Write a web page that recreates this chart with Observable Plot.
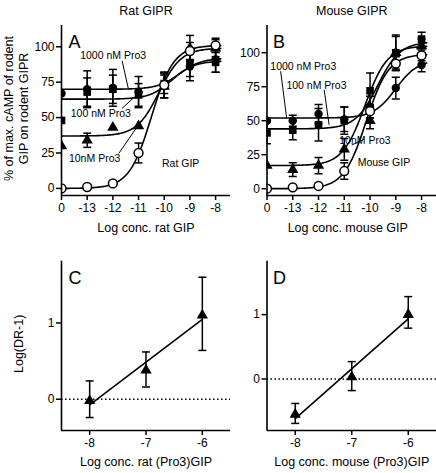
<!DOCTYPE html>
<html><head><meta charset="utf-8">
<script src="https://cdn.jsdelivr.net/npm/d3@7"></script>
<script src="https://cdn.jsdelivr.net/npm/@observablehq/plot@0.6"></script>
<style>
body{margin:0;background:#fff;}
#wrap{position:relative;width:436px;height:473px;background:#fff;font-family:"Liberation Sans",Arial,sans-serif;}
#wrap svg{position:absolute;}
</style></head><body><div id="wrap"></div>
<script>
// ---------- DATA ----------
// agonist dose (log M); the "0" tick is the no-agonist control, drawn at the left end (-14)
const doseLog = [-14, -13, -12, -11, -10, -9, -8];
const doseLabels = ["0", "-13", "-12", "-11", "-10", "-9", "-8"];
const seriesKeys = ["pro1000", "pro100", "pro10", "gip"];

// Panel A: rat GIPR (% of max cAMP)
const ratGIP      = [0, 1, 3.5, 25, 73, 97, 101];
const ratGIPErr   = [0, 0, 0, 7, 9, 6, 5];
const rat10       = [30, 34, 43, 44, 72, 99, 99];
const rat10Err    = [0, 5, 0, 0, 8, 9, 6];
const rat100      = [48, 68, 70, 66, 74, 88, 89];
const rat100Err   = [0, 10, 10, 8, 7, 9, 7];
const rat1000     = [67, 70, 71, 68, 73, 86, 91];
const rat1000Err  = [0, 13, 13, 11, 9, 10, 9];
// fitted sigmoid parameters, order as seriesKeys
const ratFitBottom = [70, 63, 37, 0];
const ratFitTop    = [92, 90, 99, 101];
const ratFitLogEC50 = [-9.4, -9.7, -10.2, -10.5];

// Panel B: mouse GIPR
const mouseGIP     = [0, 1, 2, 13, 57, 92, 98];
const mouseGIPErr  = [0, 0, 0, 6, 5, 5, 4];
const mouse10      = [17, 14, 17, 29, 50, 100, 105];
const mouse10Err   = [0, 5, 6, 8, 6, 12, 5];
const mouse100     = [41, 43, 47, 50, 72, 100, 110];
const mouse100Err  = [8, 7, 12, 10, 13, 13, 5];
const mouse1000    = [50, 50, 55, 51, 60, 74, 91];
const mouse1000Err = [0, 4, 7, 9, 8, 8, 5];
const mouseFitBottom = [52, 44, 17, 0];
const mouseFitTop    = [95, 108, 105, 99];
const mouseFitLogEC50 = [-9.0, -9.7, -10.2, -10.15];

// Panels C/D: Schild plots
const pro3Log   = [-8, -7, -6];
const ratDR     = [-0.02, 0.38, 1.1];
const ratDRLo   = [-0.24, 0.16, 0.64];
const ratDRHi   = [0.24, 0.62, 1.6];
const mouseDR   = [-0.55, 0.03, 1.0];
const mouseDRLo = [-0.69, -0.18, 0.79];
const mouseDRHi = [-0.38, 0.27, 1.28];

// ---------- BUILD ----------
const FONT = '"Liberation Sans", Arial, Helvetica, sans-serif';
const wrap = document.getElementById("wrap");
const capSymbol = {draw(ctx, size) { const w = Math.sqrt(size / Math.PI); ctx.moveTo(-w, 0); ctx.lineTo(w, 0); }};
const plain = d => String(d);

function rows(key, vals, errs) {
  return doseLog.map((x, i) => ({series: key, x, y: vals[i], err: errs[i], lo: vals[i] - errs[i], hi: vals[i] + errs[i]}));
}
function fitCurves(bottoms, tops, ec50s) {
  const pts = [];
  seriesKeys.forEach((s, k) => {
    for (let j = 0; j <= 124; j++) {
      const x = -14 + j * 0.05;
      pts.push({series: s, x, y: bottoms[k] + (tops[k] - bottoms[k]) / (1 + Math.pow(10, ec50s[k] - x))});
    }
  });
  return pts;
}
function place(svg, left, top) {
  svg.style.left = left + "px"; svg.style.top = top + "px";
  svg.style.background = "transparent"; svg.style.overflow = "visible";
  wrap.appendChild(svg);
}

function topPanel(o) {
  const all = [].concat(...o.data);
  const errRows = all.filter(d => d.err > 0);
  const [d1000, d100, d10, dgip] = o.data;
  const xDom = [-14, -7.42];
  const marks = [
    Plot.line(o.fit, {x: "x", y: "y", z: "series", stroke: "black", strokeWidth: 1.6, clip: true}),
    Plot.ruleX(errRows, {x: "x", y1: "lo", y2: "hi", stroke: "black", strokeWidth: 1.5, clip: true}),
    Plot.dot(errRows, {x: "x", y: "hi", symbol: capSymbol, r: 4, stroke: "black", fill: "none", strokeWidth: 1.5, clip: true}),
    Plot.dot(errRows, {x: "x", y: "lo", symbol: capSymbol, r: 4, stroke: "black", fill: "none", strokeWidth: 1.5, clip: true}),
    Plot.dot(d10, {x: "x", y: "y", symbol: "triangle", r: 4.2, fill: "black", clip: true}),
    Plot.dot(d100, {x: "x", y: "y", symbol: "square", r: 4.3, fill: "black", clip: true}),
    Plot.dot(d1000, {x: "x", y: "y", symbol: "circle", r: 4.2, fill: "black", clip: true}),
    Plot.dot(dgip, {x: "x", y: "y", symbol: "circle", r: 4.4, fill: "white", stroke: "black", strokeWidth: 1.5, clip: true}),
    Plot.link(o.leaders, {x1: "x1", y1: "y1", x2: "x2", y2: "y2", stroke: "black", strokeWidth: 1}),
    Plot.text(o.notes, {x: "x", y: "y", text: "text", textAnchor: d => d.anchor || "middle", lineAnchor: "middle", fontSize: 10.5}),
    Plot.ruleX([xDom[0]], {stroke: "black", strokeWidth: 1.6}),
    Plot.ruleY([o.yDomain[0]], {stroke: "black", strokeWidth: 1.6}),
    Plot.axisY({ticks: [0, 25, 50, 75, 100], tickFormat: plain, tickSize: 5, tickPadding: 2, fontSize: 12, strokeWidth: 1.5, label: null}),
    Plot.axisX({ticks: doseLog, tickFormat: d => doseLabels[doseLog.indexOf(d)], tickSize: 5, tickPadding: 3, fontSize: 12, strokeWidth: 1.5, label: null}),
    Plot.text([o.title], {frameAnchor: "top", dy: -19, fontSize: 12.5}),
    Plot.text([o.xLabel], {frameAnchor: "bottom", dy: 36.5, dx: o.xLabelDx || 0, fontSize: 12.5}),
    Plot.text([o.letter], {frameAnchor: "top-left", textAnchor: "start", lineAnchor: "middle", dx: o.letterDx, dy: 17, fontSize: 18})
  ];
  if (o.yLabel) {
    marks.push(Plot.text([o.yLabel[0]], {frameAnchor: "left", textAnchor: "middle", lineAnchor: "middle", rotate: -90, dx: -53, dy: -2, fontSize: 12.5}));
    marks.push(Plot.text([o.yLabel[1]], {frameAnchor: "left", textAnchor: "middle", lineAnchor: "middle", rotate: -90, dx: -38, dy: -2, fontSize: 12.5}));
  }
  return Plot.plot({
    width: o.width, height: 240,
    marginLeft: o.marginLeft, marginRight: o.marginRight, marginTop: 25, marginBottom: 45,
    x: {domain: xDom}, y: {domain: o.yDomain},
    style: {fontFamily: FONT, fontSize: "12px", color: "black"},
    marks
  });
}

function schildPanel(o) {
  const data = pro3Log.map((x, i) => ({x, y: o.vals[i], lo: o.lo[i], hi: o.hi[i]}));
  const xDom = [-8.5, -5.5];
  const marks = [
    Plot.ruleY([0], {stroke: "black", strokeWidth: 1.5, strokeDasharray: "1.5,2.5"}),
    Plot.linearRegressionY(data, {x: "x", y: "y", ci: 0, stroke: "black", strokeWidth: 1.6}),
    Plot.ruleX(data, {x: "x", y1: "lo", y2: "hi", stroke: "black", strokeWidth: 1.5}),
    Plot.dot(data, {x: "x", y: "hi", symbol: capSymbol, r: 4, stroke: "black", fill: "none", strokeWidth: 1.5}),
    Plot.dot(data, {x: "x", y: "lo", symbol: capSymbol, r: 4, stroke: "black", fill: "none", strokeWidth: 1.5}),
    Plot.dot(data, {x: "x", y: "y", symbol: "triangle", r: 4.2, fill: "black"}),
    Plot.ruleX([xDom[0]], {stroke: "black", strokeWidth: 1.6}),
    Plot.ruleY([o.yDomain[0]], {stroke: "black", strokeWidth: 1.6}),
    Plot.axisY({ticks: [0, 1], tickFormat: plain, tickSize: 5, tickPadding: 2, fontSize: 12, strokeWidth: 1.5, label: null}),
    Plot.axisX({ticks: pro3Log, tickFormat: plain, tickSize: 5, tickPadding: 3, fontSize: 12, strokeWidth: 1.5, label: null}),
    Plot.text([o.xLabel], {frameAnchor: "bottom", dy: 35, fontSize: 12.5}),
    Plot.text([o.letter], {frameAnchor: "top-left", textAnchor: "start", lineAnchor: "middle", dx: o.letterDx, dy: 17, fontSize: 18})
  ];
  if (o.yLabel) marks.push(Plot.text([o.yLabel], {frameAnchor: "left", textAnchor: "middle", lineAnchor: "middle", rotate: -90, dx: -43, dy: -2, fontSize: 12.5}));
  return Plot.plot({
    width: o.width, height: 233,
    marginLeft: o.marginLeft, marginRight: o.marginRight, marginTop: 20.7, marginBottom: 43,
    x: {domain: xDom}, y: {domain: o.yDomain},
    style: {fontFamily: FONT, fontSize: "12px", color: "black"},
    marks
  });
}

const ratData = [rows("pro1000", rat1000, rat1000Err), rows("pro100", rat100, rat100Err), rows("pro10", rat10, rat10Err), rows("gip", ratGIP, ratGIPErr)];
const mouseData = [rows("pro1000", mouse1000, mouse1000Err), rows("pro100", mouse100, mouse100Err), rows("pro10", mouse10, mouse10Err), rows("gip", mouseGIP, mouseGIPErr)];

place(topPanel({
  data: ratData, fit: fitCurves(ratFitBottom, ratFitTop, ratFitLogEC50),
  yDomain: [-5, 115], title: "Rat GIPR", xLabel: "Log conc. rat GIP", letter: "A", letterDx: 7,
  yLabel: ["% of max. cAMP of rodent", "GIP on rodent GIPR"],
  width: 236, marginLeft: 61, marginRight: 6,
  notes: [
    {text: "1000 nM Pro3", x: -11.99, y: 93.6},
    {text: "100 nM Pro3", x: -12.47, y: 53.0},
    {text: "10nM Pro3", x: -12.71, y: 21.2},
    {text: "Rat GIP", x: -9.36, y: 17.7}
  ],
  leaders: [
    {x1: -11.64, y1: 90.1, x2: -11.40, y2: 70.6},
    {x1: -11.64, y1: 56.5, x2: -11.16, y2: 64.5},
    {x1: -11.77, y1: 24.7, x2: -11.01, y2: 44.7}
  ]
}), 0, 0);

place(topPanel({
  data: mouseData, fit: fitCurves(mouseFitBottom, mouseFitTop, mouseFitLogEC50),
  yDomain: [-5, 120], title: "Mouse GIPR", xLabel: "Log conc. mouse GIP", xLabelDx: -4, letter: "B", letterDx: 6,
  width: 200, marginLeft: 30.5, marginRight: 0,
  notes: [
    {text: "1000 nM Pro3", x: -12.59, y: 89.4},
    {text: "100 nM Pro3", x: -12.08, y: 75.8},
    {text: "10nM Pro3", x: -10.2, y: 35.7, anchor: "start"},
    {text: "Mouse GIP", x: -9.46, y: 19.2}
  ],
  leaders: [
    {x1: -13.47, y1: 86.4, x2: -13.24, y2: 52.4},
    {x1: -11.78, y1: 72.7, x2: -11.59, y2: 47.0},
    {x1: -10.24, y1: 36.3, x2: -10.71, y2: 32.1}
  ]
}), 236, 0);

place(schildPanel({
  vals: ratDR, lo: ratDRLo, hi: ratDRHi, yDomain: [-0.41, 1.81],
  xLabel: "Log conc. rat (Pro3)GIP", letter: "C", letterDx: 7, yLabel: "Log(DR-1)",
  width: 236, marginLeft: 61, marginRight: 6
}), 0, 240);

place(schildPanel({
  vals: mouseDR, lo: mouseDRLo, hi: mouseDRHi, yDomain: [-0.8, 1.83],
  xLabel: "Log conc. mouse (Pro3)GIP", letter: "D", letterDx: 6,
  width: 200, marginLeft: 30.5, marginRight: 0
}), 236, 240);
</script></body></html>
